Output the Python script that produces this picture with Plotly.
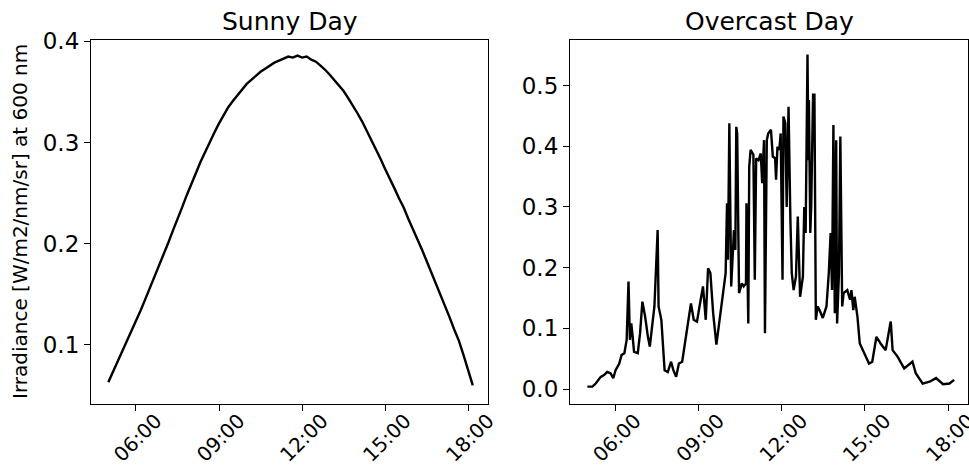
import pandas as pd
import plotly.graph_objects as go

DAY = "2023-06-01"

# Sunny day: irradiance at 600 nm, sampled every 10 minutes from 05:00
sunny_start = "05:00"
sunny_values = [
    0.063, 0.073, 0.083, 0.094, 0.104, 0.114,
    0.124, 0.134, 0.145, 0.156, 0.167, 0.178,
    0.189, 0.201, 0.213, 0.224, 0.236, 0.248,
    0.260, 0.270, 0.281, 0.291, 0.301, 0.310,
    0.319, 0.327, 0.335, 0.341, 0.347, 0.353,
    0.358, 0.362, 0.366, 0.370, 0.373, 0.376,
    0.379, 0.381, 0.383, 0.385, 0.384, 0.386,
    0.384, 0.385, 0.382, 0.380, 0.376, 0.372,
    0.367, 0.362, 0.357, 0.351, 0.344, 0.337,
    0.329, 0.321, 0.312, 0.303, 0.294, 0.284,
    0.274, 0.265, 0.255, 0.245, 0.236, 0.225,
    0.215, 0.205, 0.194, 0.183, 0.172, 0.161,
    0.149, 0.138, 0.127, 0.115, 0.104, 0.090,
    0.075, 0.060,
]

# Overcast day: irregularly spaced samples
overcast_times = [
    "05:00", "05:11", "05:18", "05:29", "05:36", "05:43", "05:50", "05:56",
    "06:01", "06:09", "06:14", "06:20", "06:25", "06:29", "06:32", "06:35",
    "06:38", "06:41", "06:49", "06:54", "06:59", "07:05", "07:11", "07:15",
    "07:25", "07:29", "07:32", "07:34", "07:40", "07:47", "07:54", "08:01",
    "08:06", "08:12", "08:18", "08:25", "08:32", "08:40", "08:44", "08:50",
    "08:57", "09:03", "09:10", "09:16", "09:21", "09:26", "09:32", "09:39",
    "09:46", "09:53", "09:59", "10:02", "10:04", "10:07", "10:11", "10:17",
    "10:20", "10:22", "10:24", "10:28", "10:34", "10:38", "10:43", "10:44",
    "10:48", "10:50", "10:53", "10:59", "11:02", "11:05", "11:10", "11:15",
    "11:18", "11:22", "11:24", "11:28", "11:31", "11:37", "11:41", "11:46",
    "11:48", "11:51", "11:55", "11:58", "12:02", "12:04", "12:08", "12:11",
    "12:15", "12:19", "12:22", "12:26", "12:31", "12:35", "12:38", "12:40",
    "12:46", "12:49", "12:52", "12:56", "12:58", "12:59", "13:02", "13:04",
    "13:08", "13:11", "13:14", "13:18", "13:22", "13:29", "13:37", "13:42",
    "13:46", "13:49", "13:52", "13:55", "13:58", "14:00", "14:04", "14:07",
    "14:11", "14:14", "14:22", "14:28", "14:31", "14:35", "14:38", "14:44",
    "14:49", "14:58", "15:09", "15:16", "15:25", "15:34", "15:45", "15:55",
    "15:56", "16:00", "16:11", "16:25", "16:36", "16:43", "16:50", "17:05",
    "17:20", "17:34", "17:49", "18:03", "18:13",
]
overcast_values = [
    0.004, 0.004, 0.009, 0.020, 0.023, 0.028, 0.026, 0.018,
    0.031, 0.042, 0.056, 0.059, 0.081, 0.177, 0.081, 0.108,
    0.086, 0.061, 0.059, 0.092, 0.144, 0.119, 0.086, 0.070,
    0.136, 0.218, 0.262, 0.136, 0.114, 0.031, 0.028, 0.045,
    0.031, 0.020, 0.042, 0.045, 0.081, 0.122, 0.141, 0.114,
    0.111, 0.138, 0.169, 0.114, 0.199, 0.191, 0.125, 0.073,
    0.114, 0.152, 0.191, 0.306, 0.213, 0.438, 0.169, 0.262,
    0.229, 0.432, 0.421, 0.158, 0.174, 0.169, 0.174, 0.306,
    0.108, 0.366, 0.394, 0.386, 0.180, 0.380, 0.377, 0.388,
    0.339, 0.410, 0.092, 0.410, 0.421, 0.427, 0.383, 0.380,
    0.345, 0.399, 0.394, 0.421, 0.180, 0.449, 0.438, 0.300,
    0.465, 0.279, 0.191, 0.163, 0.185, 0.284, 0.191, 0.152,
    0.185, 0.300, 0.257, 0.551, 0.377, 0.476, 0.257, 0.300,
    0.485, 0.485, 0.114, 0.136, 0.130, 0.117, 0.136, 0.191,
    0.257, 0.163, 0.435, 0.125, 0.410, 0.108, 0.191, 0.416,
    0.136, 0.158, 0.163, 0.147, 0.163, 0.130, 0.152, 0.119,
    0.075, 0.059, 0.042, 0.045, 0.086, 0.075, 0.064, 0.108,
    0.111, 0.064, 0.053, 0.034, 0.040, 0.045, 0.026, 0.009,
    0.012, 0.018, 0.008, 0.009, 0.015,
]

tick_times = ["06:00", "09:00", "12:00", "15:00", "18:00"]
titles = ["Sunny Day", "Overcast Day"]
y_label = "Irradiance [W/m2/nm/sr] at 600 nm"

sunny_x = pd.date_range(f"{DAY} {sunny_start}", periods=len(sunny_values), freq="10min")
overcast_x = pd.to_datetime([f"{DAY} {t}" for t in overcast_times])
tick_vals = [f"{DAY} {t}" for t in tick_times]

FONT = "DejaVu Sans"
W, H = 969, 471
ML, MR, MT, MB = 91, 1, 40, 67
plot_w = W - ML - MR

fig = go.Figure()
fig.add_trace(go.Scatter(x=sunny_x, y=sunny_values, mode="lines",
                         line=dict(color="black", width=2.4),
                         xaxis="x", yaxis="y", showlegend=False))
fig.add_trace(go.Scatter(x=overcast_x, y=overcast_values, mode="lines",
                         line=dict(color="black", width=2.4),
                         xaxis="x2", yaxis="y2", showlegend=False))

panel_w = 397 / plot_w
right_start = 479 / plot_w

common_x = dict(
    type="date",
    range=[f"{DAY} 04:22:30", f"{DAY} 18:43:00"],
    tickvals=tick_vals,
    ticktext=tick_times,
    tickangle=-45,
    ticks="outside", ticklen=6, tickwidth=1.2, tickcolor="black",
    showline=True, linecolor="black", linewidth=1.2, mirror=True,
    showgrid=False, zeroline=False, automargin=False,
    tickfont=dict(family=FONT, size=20, color="black"),
    ticklabelshift=20, ticklabelstandoff=-10, ticklabeloverflow="allow",
)
common_y = dict(
    ticks="outside", ticklen=6, tickwidth=1.2, tickcolor="black",
    showline=True, linecolor="black", linewidth=1.2, mirror=True,
    showgrid=False, zeroline=False, automargin=False,
    tickfont=dict(family=FONT, size=23, color="black"),
)

fig.update_layout(
    width=W, height=H,
    margin=dict(l=ML, r=MR, t=MT, b=MB),
    paper_bgcolor="white", plot_bgcolor="white",
    xaxis=dict(domain=[0, panel_w], anchor="y", **common_x),
    xaxis2=dict(domain=[right_start, 1], anchor="y2", **common_x),
    yaxis=dict(domain=[0, 1], anchor="x", range=[0.0416, 0.4014],
               tickvals=[0.1, 0.2, 0.3, 0.4], tickformat=".1f", **common_y),
    yaxis2=dict(domain=[0, 1], anchor="x2", range=[-0.0247, 0.575],
                tickvals=[0.0, 0.1, 0.2, 0.3, 0.4, 0.5], tickformat=".1f", **common_y),
    annotations=[
        dict(text=titles[0], x=panel_w / 2, y=1, xref="paper", yref="paper",
             xanchor="center", yanchor="bottom", yshift=2, showarrow=False,
             font=dict(family=FONT, size=25, color="black")),
        dict(text=titles[1], x=(right_start + 1) / 2, y=1, xref="paper", yref="paper",
             xanchor="center", yanchor="bottom", yshift=2, showarrow=False,
             font=dict(family=FONT, size=25, color="black")),
        dict(text=y_label, x=(20 - ML) / plot_w, y=0.5, xref="paper", yref="paper",
             xanchor="center", yanchor="middle", textangle=-90, showarrow=False,
             font=dict(family=FONT, size=20, color="black")),
    ],
)

fig.write_html("out.html")
